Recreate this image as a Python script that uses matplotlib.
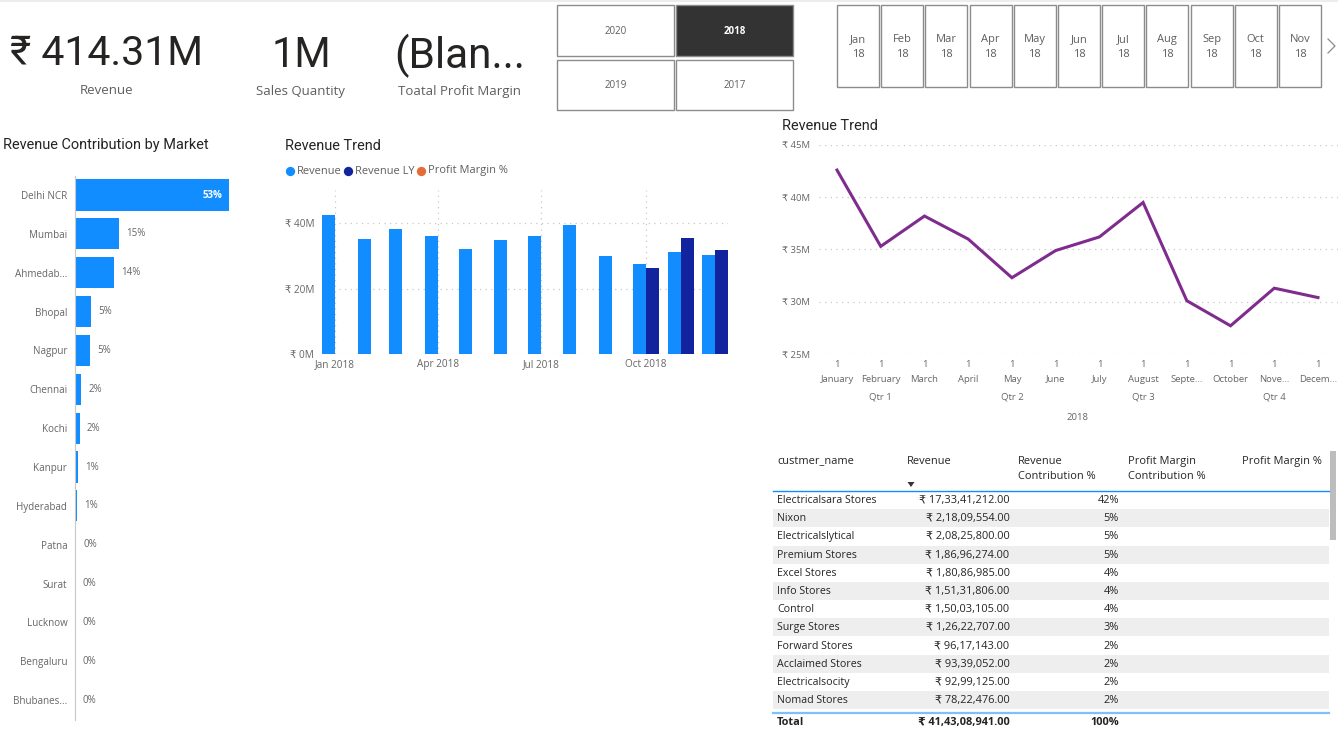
import datetime as dt
import matplotlib
matplotlib.use("Agg")
import matplotlib.pyplot as plt
import matplotlib.dates as mdates
from matplotlib.patches import Rectangle
from matplotlib.ticker import FuncFormatter

plt.rcParams['font.family'] = ['Open Sans', 'DejaVu Sans']

W, H = 1338, 732
HEAD = ['Roboto', 'DejaVu Sans']

markets = ['Delhi NCR', 'Mumbai', 'Ahmedab...', 'Bhopal', 'Nagpur', 'Chennai', 'Kochi', 'Kanpur',
           'Hyderabad', 'Patna', 'Surat', 'Lucknow', 'Bengaluru', 'Bhubanes...']
market_share = [53, 15.1, 13.5, 5.5, 5.3, 2.2, 1.7, 1.2, 0.8, 0.4, 0.3, 0.2, 0.15, 0.1]
market_labels = ['53%', '15%', '14%', '5%', '5%', '2%', '2%', '1%', '1%', '0%', '0%', '0%', '0%', '0%']

month_dates = [dt.date(2018, m, 1) for m in range(1, 13)]
revenue = [42.6, 35.3, 38.2, 36.0, 32.3, 34.9, 36.2, 39.5, 30.1, 27.7, 31.3, 30.4]
ly_dates = [dt.date(2018, 10, 1), dt.date(2018, 11, 1), dt.date(2018, 12, 1)]
revenue_ly = [26.4, 35.4, 31.8]
bar_ticks = [dt.date(2018, 1, 1), dt.date(2018, 4, 1), dt.date(2018, 7, 1), dt.date(2018, 10, 1)]
bar_tick_labels = ['Jan 2018', 'Apr 2018', 'Jul 2018', 'Oct 2018']

month_names = ['January', 'February', 'March', 'April', 'May', 'June', 'July', 'August',
               'Septe...', 'October', 'Nove...', 'Decem...']
quarters = ['Qtr 1', 'Qtr 2', 'Qtr 3', 'Qtr 4']

years = ['2020', '2018', '2019', '2017']
slicer_months = ['Jan', 'Feb', 'Mar', 'Apr', 'May', 'Jun', 'Jul', 'Aug', 'Sep', 'Oct', 'Nov']

customers = ['Electricalsara Stores', 'Nixon', 'Electricalslytical', 'Premium Stores', 'Excel Stores',
             'Info Stores', 'Control', 'Surge Stores', 'Forward Stores', 'Acclaimed Stores',
             'Electricalsocity', 'Nomad Stores']
cust_revenue = ['₹ 17,33,41,212.00', '₹ 2,18,09,554.00', '₹ 2,08,25,800.00', '₹ 1,86,96,274.00',
                '₹ 1,80,86,985.00', '₹ 1,51,31,806.00', '₹ 1,50,03,105.00', '₹ 1,26,22,707.00',
                '₹ 96,17,143.00', '₹ 93,39,052.00', '₹ 92,99,125.00', '₹ 78,22,476.00']
cust_share = ['42%', '5%', '5%', '5%', '4%', '4%', '4%', '3%', '2%', '2%', '2%', '2%']

BLUE, NAVY, ORANGE, PURPLE = '#118DFF', '#12239E', '#E66C37', '#7F2C8E'
DARK, GREY, MID = '#252423', '#605E5C', '#666666'
DOTS = (0, (1, 3.5))


def px_axes(left, top, right, bottom, **kw):
    return fig.add_axes([left / W, 1 - bottom / H, (right - left) / W, (bottom - top) / H], **kw)


fig = plt.figure(figsize=(W / 100, H / 100), dpi=100, facecolor='white')
ov = fig.add_axes([0, 0, 1, 1], zorder=5)
ov.set_xlim(0, W)
ov.set_ylim(H, 0)
ov.axis('off')
ov.patch.set_alpha(0)


def txt(x, y, s, size=7, color=GREY, ha='left', va='center', **kw):
    return ov.text(x, y + 1.5, s, fontsize=size, color=color, ha=ha, va=va, **kw)


ov.add_patch(Rectangle((0, 0), W, 2, fc='#EDEDED', ec='none'))

# KPI cards
txt(107, 52, '₹ 414.31M', 29.5, DARK, ha='center', family=HEAD)
txt(106.5, 88.5, 'Revenue', 9.5, GREY, ha='center')
txt(301, 54, '1M', 30, DARK, ha='center', family=HEAD)
txt(300, 90.5, 'Sales Quantity', 9.5, GREY, ha='center')
txt(460, 54, '(Blan...', 30.5, DARK, ha='center', family=HEAD)
txt(460, 90.5, 'Toatal Profit Margin', 9.5, GREY, ha='center')

# year slicer
for i, y in enumerate(years):
    col, row = [(0, 0), (1, 0), (0, 1), (1, 1)][i]
    x0, y0 = 557 + col * 119, 5 + row * 54.5
    sel = y == '2018'
    ov.add_patch(Rectangle((x0, y0), 117, 50.5, fc='#333333' if sel else 'white', ec='#8C8C8C', lw=1))
    txt(x0 + 58.5, y0 + 25, y, 7, 'white' if sel else GREY, ha='center', fontweight='bold' if sel else 'normal')

# month slicer
for i, m in enumerate(slicer_months):
    x0 = 837 + i * 44.2
    ov.add_patch(Rectangle((x0, 5), 42, 82, fc='white', ec='#8C8C8C', lw=1))
    txt(x0 + 21, 38, m, 8, GREY, ha='center')
    txt(x0 + 21, 53, '18', 8, GREY, ha='center')
ov.plot([1328, 1335, 1328], [39, 46, 53], color='#8C8C8C', lw=0.9)

# titles
txt(3, 144, 'Revenue Contribution by Market', 10.45, DARK, family=HEAD)
txt(285, 144, 'Revenue Trend', 10.45, DARK, family=HEAD)
txt(782, 124, 'Revenue Trend', 10.45, DARK, family=HEAD)

# legend
for x, col, lab in [(290, BLUE, 'Revenue'), (348, NAVY, 'Revenue LY'), (421, ORANGE, 'Profit Margin %')]:
    ov.scatter([x], [171], s=45, color=col, linewidths=0)
    txt(x + 7, 169.5, lab, 7.9, GREY)

# market bars
ax = px_axes(75, 175.6, 240, 719.6)
ax.set_xlim(0, 56.8)
ax.set_ylim(len(markets) - 0.5, -0.5)
pos = list(range(len(markets)))
ax.barh(pos, market_share, height=0.8, color=BLUE)
ax.set_yticks(pos, markets, fontsize=7.1, color=MID)
ax.tick_params(axis='y', length=0, pad=5.5)
ax.set_xticks([])
for s in ['top', 'right', 'bottom']:
    ax.spines[s].set_visible(False)
ax.spines['left'].set_color('#C8C8C8')
ax.spines['left'].set_linewidth(0.8)
for i, (v, l) in enumerate(zip(market_share, market_labels)):
    if i == 0:
        ax.annotate(l, (v, i), xytext=(-7, 0), textcoords='offset pixels', ha='right', va='center',
                    fontsize=7, color='white', fontweight='bold')
    else:
        ax.annotate(l, (v, i), xytext=(7, 0), textcoords='offset pixels', ha='left', va='center',
                    fontsize=7, color=MID)

# clustered bars
ax = px_axes(322, 190, 728, 354)
per_day = (645.7 - 335.3) / 273
d0 = mdates.date2num(dt.date(2018, 1, 1))
ax.set_xlim(d0 - (335.3 - 322) / per_day, d0 + (728 - 335.3) / per_day)
ax.set_ylim(0, 164 / 3.265)
bw = 13 / per_day
ax.bar(mdates.date2num(month_dates), revenue, width=-bw, align='edge', color=BLUE, zorder=3)
ax.bar(mdates.date2num(ly_dates), revenue_ly, width=bw, align='edge', color=NAVY, zorder=3)
ax.set_yticks([0, 20, 40])
ax.yaxis.set_major_formatter(FuncFormatter(lambda v, _: f'₹ {v:.0f}M'))
ax.set_xticks(mdates.date2num(bar_ticks), bar_tick_labels)
ax.tick_params(length=0, labelsize=7.2, labelcolor=MID)
ax.tick_params(axis='y', pad=5.5)
ax.tick_params(axis='x', pad=3.5)
ax.grid(True, color='#C8C8C8', linestyle=DOTS, linewidth=0.9, zorder=0)
ax.set_axisbelow(True)
for s in ax.spines.values():
    s.set_visible(False)

# line chart
ax = px_axes(819, 145, 1338, 354)
step = (1318 - 837) / 11
idx = list(range(12))
ax.set_xlim(-(837 - 819) / step, (1338 - 837) / step)
ax.set_ylim(25, 45)
ax.plot(idx, revenue, color=PURPLE, lw=2.2, zorder=3, solid_joinstyle='miter')
ax.set_yticks([25, 30, 35, 40, 45])
ax.yaxis.set_major_formatter(FuncFormatter(lambda v, _: f'₹ {v:.0f}M'))
ax.set_xticks(idx, ['1'] * 12)
ax.tick_params(length=0, labelsize=6.8, labelcolor=MID)
ax.tick_params(axis='y', pad=6.5)
ax.tick_params(axis='x', pad=4)
ax.grid(True, axis='y', color='#C8C8C8', linestyle=DOTS, linewidth=0.9)
for s in ax.spines.values():
    s.set_visible(False)
trans = ax.get_xaxis_transform()
for i, m in enumerate(month_names):
    ax.annotate(m, (i, 0), xycoords=trans, xytext=(0, -25), textcoords='offset pixels',
                ha='center', va='center', fontsize=6.8, color=MID)
for i, q in enumerate(quarters):
    ax.annotate(q, (1 + 3 * i, 0), xycoords=trans, xytext=(0, -43), textcoords='offset pixels',
                ha='center', va='center', fontsize=6.8, color=MID)
ax.annotate('2018', (5.5, 0), xycoords=trans, xytext=(0, -63.5), textcoords='offset pixels',
            ha='center', va='center', fontsize=6.8, color=MID)

# table
name_x, rev_x, share_x = 777, 1009.5, 1119
row_h = 18.2
txt(name_x, 460, 'custmer_name', 7.9, DARK)
txt(907, 460, 'Revenue', 7.9, DARK)
txt(1018, 460, 'Revenue', 7.9, DARK)
txt(1018, 475, 'Contribution %', 7.9, DARK)
txt(1128, 460, 'Profit Margin', 7.9, DARK)
txt(1128, 475, 'Contribution %', 7.9, DARK)
txt(1242, 460, 'Profit Margin %', 7.9, DARK)
ov.fill([907.5, 914.5, 911], [482, 482, 487], color='#333333', lw=0)
ov.plot([773, 1329], [490.5, 490.5], color=BLUE, lw=1)
for i, (c, r, s) in enumerate(zip(customers, cust_revenue, cust_share)):
    yc = 500 + i * row_h
    if i % 2 == 1:
        ov.add_patch(Rectangle((773, yc - 9), 556, 18, fc='#EEEEEE', ec='none', zorder=0))
    txt(name_x, yc - 1, c, 7.7, DARK)
    txt(rev_x, yc - 1, r, 7.9, DARK, ha='right')
    txt(share_x, yc - 1, s, 7.9, DARK, ha='right')
ov.plot([773, 1329], [713, 713], color='#7CC0FF', lw=1.6)
txt(name_x, 721, 'Total', 7.9, DARK, fontweight='bold')
txt(rev_x, 721, '₹ 41,43,08,941.00', 7.9, DARK, ha='right', fontweight='bold')
txt(share_x, 721, '100%', 7.9, DARK, ha='right', fontweight='bold')
ov.add_patch(Rectangle((1330, 451), 6, 89, fc='#BDBDBD', ec='none'))

fig.savefig('out.png', dpi=100, facecolor='white')
